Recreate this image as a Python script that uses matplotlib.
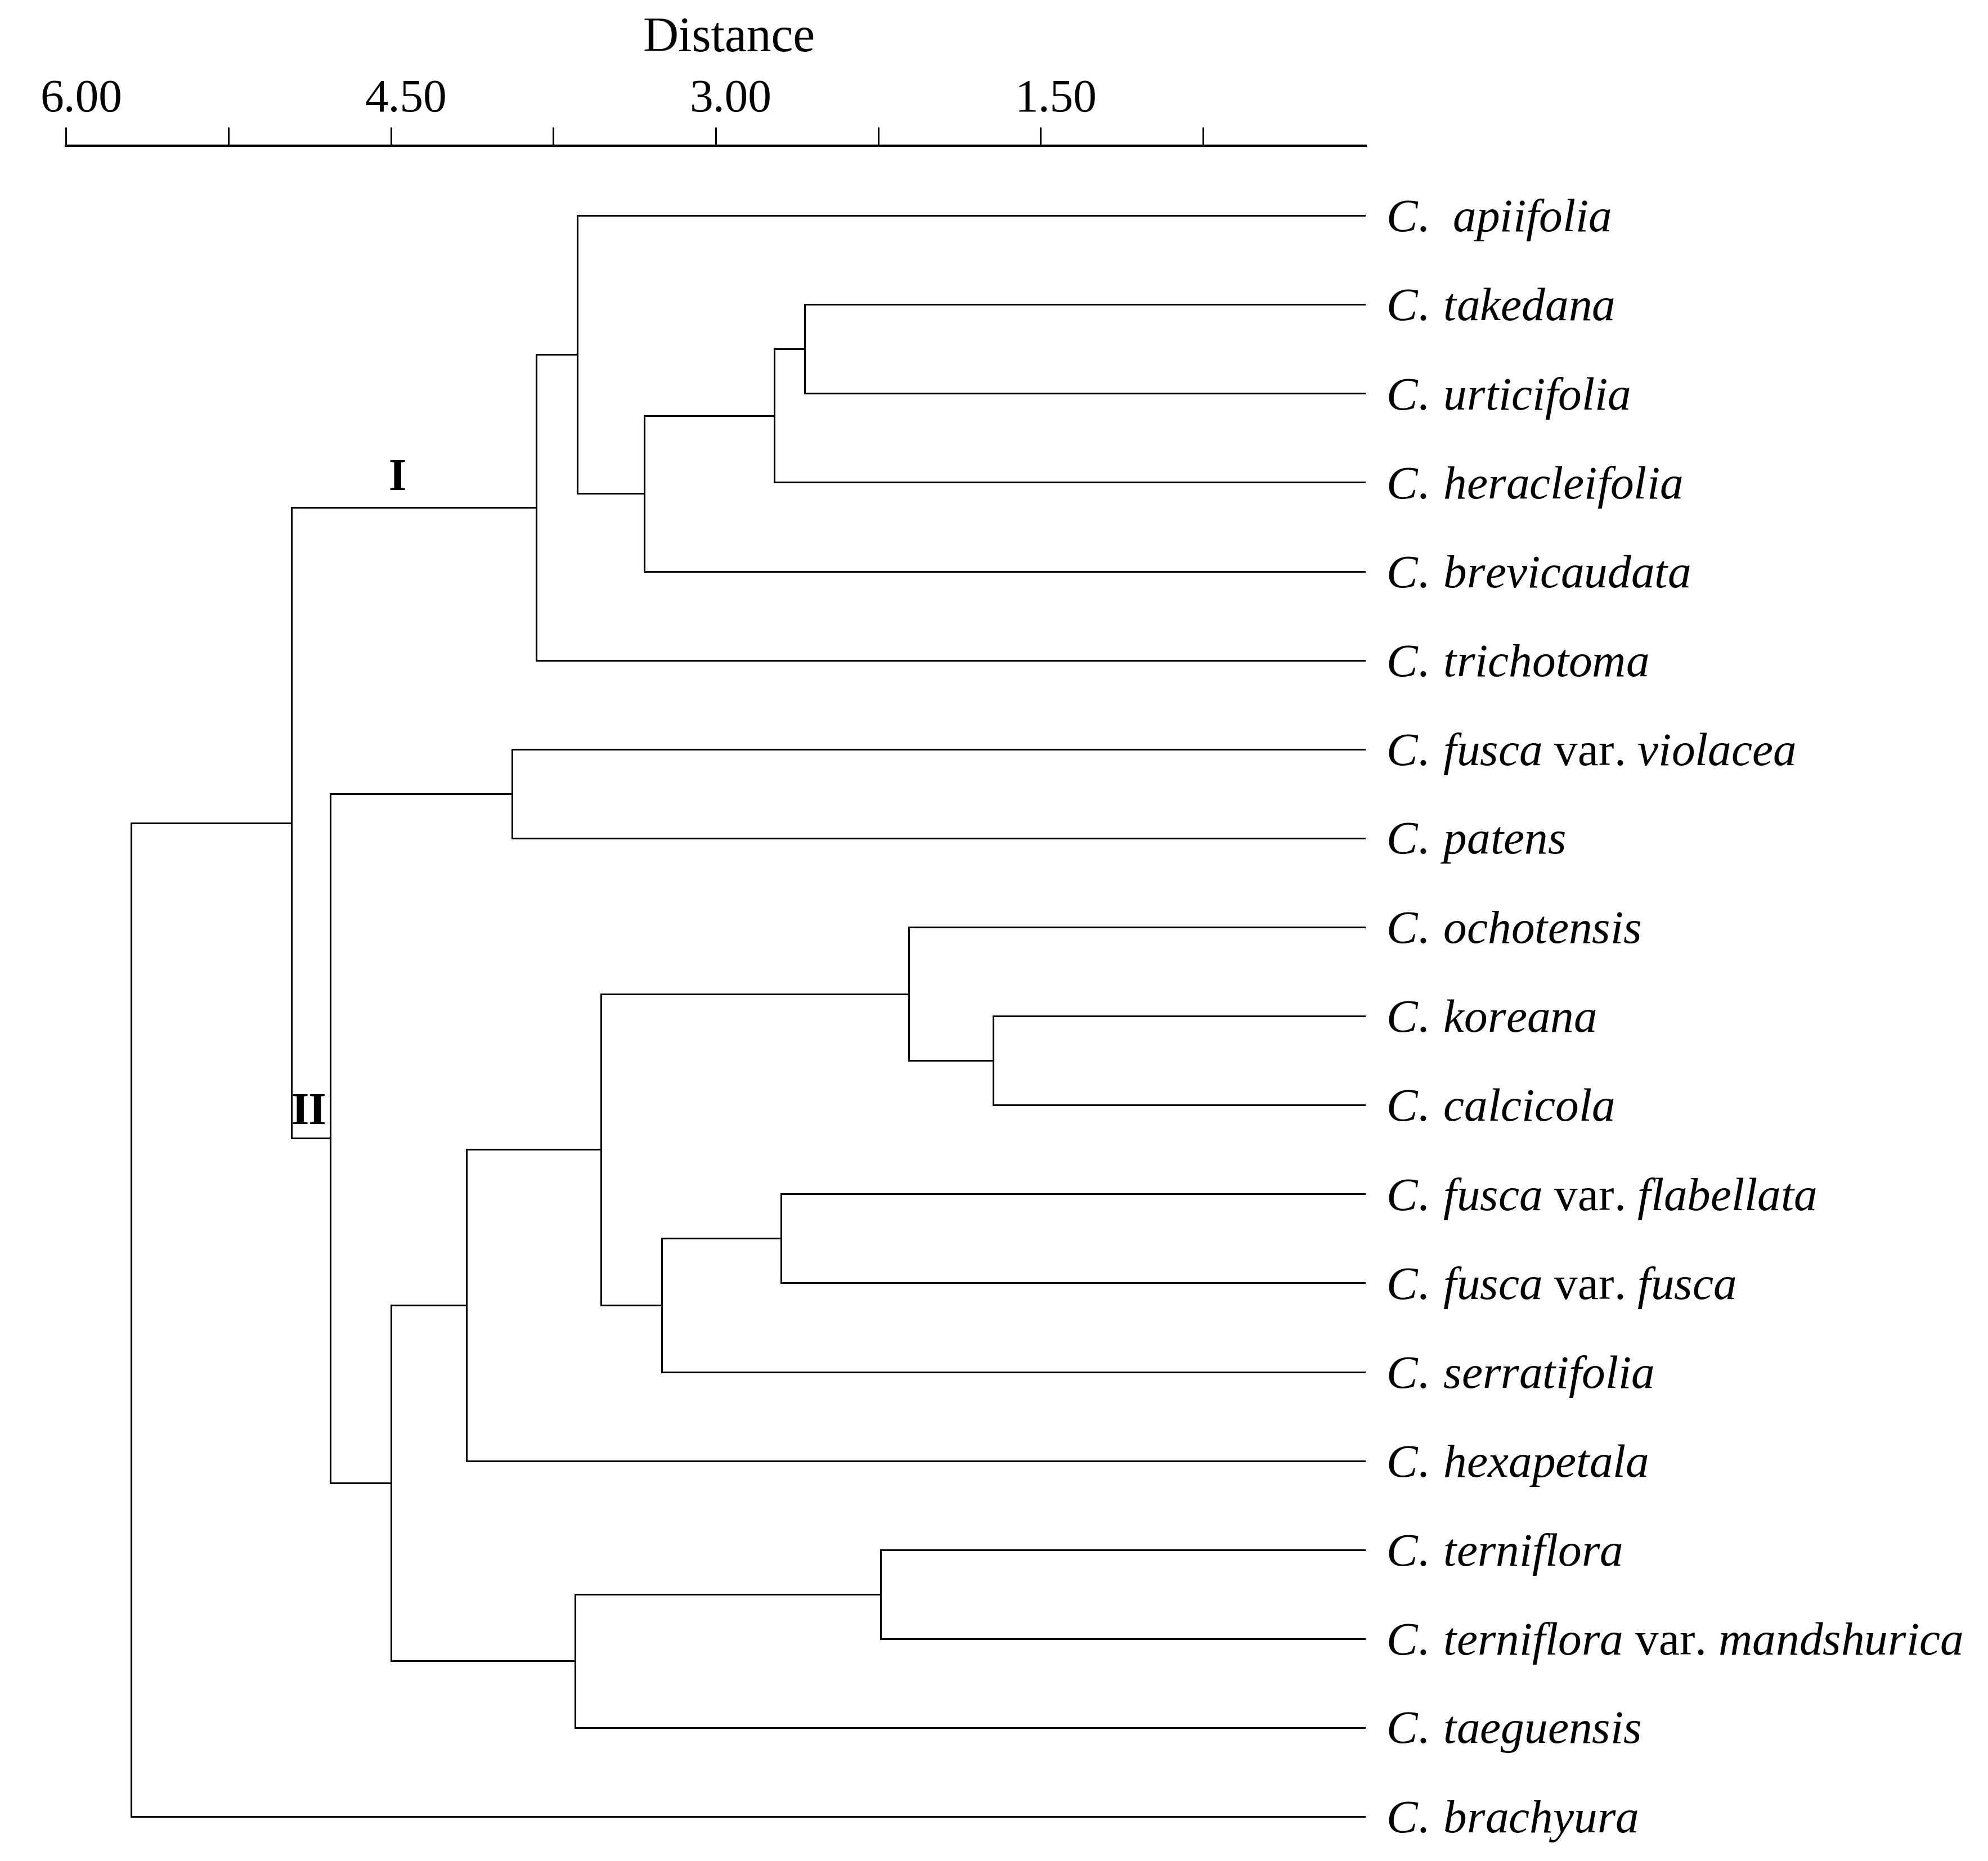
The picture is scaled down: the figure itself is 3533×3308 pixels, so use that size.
import matplotlib
matplotlib.use("Agg")
import matplotlib.pyplot as plt
import matplotlib.transforms as mtransforms

plt.rcParams["font.family"] = ["Liberation Serif", "DejaVu Serif"]
plt.rcParams["mathtext.fontset"] = "custom"
plt.rcParams["mathtext.rm"] = "Liberation Serif"
plt.rcParams["mathtext.it"] = "Liberation Serif:italic"
plt.rcParams["mathtext.bf"] = "Liberation Serif:bold"

# leaf labels, top to bottom
leaf_labels = [
    r"$\mathit{C.\ \,apiifolia}$",
    r"$\mathit{C.\:takedana}$",
    r"$\mathit{C.\:urticifolia}$",
    r"$\mathit{C.\:heracleifolia}$",
    r"$\mathit{C.\:brevicaudata}$",
    r"$\mathit{C.\:trichotoma}$",
    r"$\mathit{C.\:fusca}$ var. $\mathit{violacea}$",
    r"$\mathit{C.\:patens}$",
    r"$\mathit{C.\:ochotensis}$",
    r"$\mathit{C.\:koreana}$",
    r"$\mathit{C.\:calcicola}$",
    r"$\mathit{C.\:fusca}$ var. $\mathit{flabellata}$",
    r"$\mathit{C.\:fusca}$ var. $\mathit{fusca}$",
    r"$\mathit{C.\:serratifolia}$",
    r"$\mathit{C.\:hexapetala}$",
    r"$\mathit{C.\:terniflora}$",
    r"$\mathit{C.\:terniflora}$ var. $\mathit{mandshurica}$",
    r"$\mathit{C.\:taeguensis}$",
    r"$\mathit{C.\:brachyura}$",
]

# merges: (child a, child b, distance); new node ids start at len(leaf_labels)
merge_a = [1, 19, 20, 0, 22, 6, 9, 8, 11, 27, 26, 29, 15, 31, 30, 24, 23, 35]
merge_b = [2, 3, 4, 21, 5, 7, 10, 25, 12, 13, 28, 14, 16, 17, 32, 33, 34, 18]
merge_dist = [2.59, 2.73, 3.33, 3.64, 3.83, 3.94, 1.72, 2.11, 2.70, 3.25,
              3.53, 4.15, 2.24, 3.65, 4.50, 4.78, 4.96, 5.70]

tick_vals = [6.00, 5.25, 4.50, 3.75, 3.00, 2.25, 1.50, 0.75]
tick_text = ["6.00", "", "4.50", "", "3.00", "", "1.50", ""]

cluster_names = ["I", "II"]
cluster_x = [4.47, 4.88]
cluster_y = [2.96, 10.09]

fig = plt.figure(figsize=(35.33, 33.08), dpi=100)
ax = fig.add_axes([0.0332, 0.01, 0.6537, 0.9117])

lw = 2.2
pos = {i: (0.0, float(i)) for i in range(len(leaf_labels))}
for k, (a, b, h) in enumerate(zip(merge_a, merge_b, merge_dist)):
    xa, ya = pos[a]
    xb, yb = pos[b]
    ax.plot([xa, h], [ya, ya], color="black", lw=lw, solid_capstyle="butt")
    ax.plot([xb, h], [yb, yb], color="black", lw=lw, solid_capstyle="butt")
    ax.plot([h, h], [ya, yb], color="black", lw=lw, solid_capstyle="projecting")
    pos[len(leaf_labels) + k] = (h, (ya + yb) / 2)

for i, lab in enumerate(leaf_labels):
    ax.annotate(lab, xy=(0, i), xytext=(26, -6), textcoords="offset points",
                ha="left", va="center", fontsize=60, annotation_clip=False)

for name, cx, cy in zip(cluster_names, cluster_x, cluster_y):
    ax.text(cx, cy, name, ha="center", va="center", fontsize=58,
            fontweight="bold")

ax.set_xlim(6.0, 0.0)
ax.set_ylim(18.29, -0.7845)

for side in ["left", "right", "bottom"]:
    ax.spines[side].set_visible(False)
ax.spines["top"].set_linewidth(3)
ax.set_yticks([])
ax.xaxis.tick_top()
ax.set_xticks(tick_vals)
ax.set_xticklabels(tick_text)
ax.tick_params(axis="x", direction="out", length=24, width=2.2, pad=7,
               labelsize=60)
shift = mtransforms.ScaledTranslation(27 / 100, 0, fig.dpi_scale_trans)
for lbl in ax.get_xticklabels():
    lbl.set_transform(lbl.get_transform() + shift)

ax.xaxis.set_label_position("top")
ax.set_xlabel("Distance", fontsize=63, va="center")
ax.xaxis.set_label_coords(0.51, 1.063)

fig.savefig("out.png", dpi=100)
